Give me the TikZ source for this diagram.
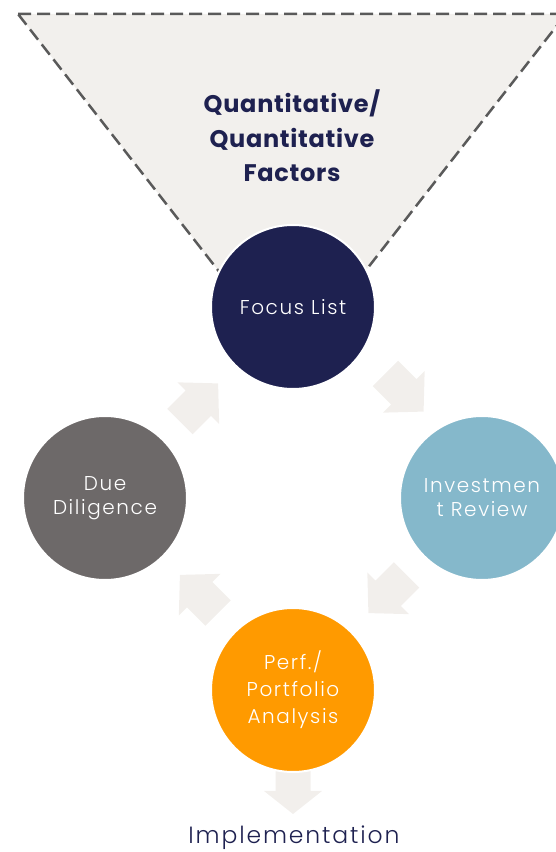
\documentclass[tikz,border=0pt]{standalone}
\usepackage{fontspec}
\setmainfont{Poppins}
\newfontfamily\lightfont{Poppins}[UprightFont=* Light, LetterSpace=8]
\newfontfamily\titlefont{Poppins}[UprightFont=* Bold, LetterSpace=3]
\usetikzlibrary{positioning,calc}

\definecolor{navy}{HTML}{1E2150}
\definecolor{steel}{HTML}{85B8CB}
\definecolor{slate}{HTML}{6D6969}
\definecolor{amber}{HTML}{FF9A00}
\definecolor{funnelfill}{HTML}{F2F0ED}
\definecolor{arrowfill}{HTML}{F2EFEC}
\definecolor{dashgray}{HTML}{5A5A5A}

\tikzset{
    stage/.style={circle, minimum size=164pt, inner sep=0pt, draw=white,
        line width=2pt, text=white, align=center,
        font=\lightfont\fontsize{20}{24}\selectfont},
    pics/flowarrow/.style={code={
        \fill[arrowfill] (-27,-18) -- (-1,-18) -- (-1,-29.5) -- (27,0)
            -- (-1,29.5) -- (-1,18) -- (-27,18) -- cycle;
    }}
}

\begin{document}
\begin{tikzpicture}[x=1pt,y=1pt]
        \useasboundingbox (0,0) rectangle (555,852);
        % funnel
        \draw[fill=funnelfill, draw=dashgray, line width=2.5pt, dash pattern=on 13pt off 6pt]
            (18,838) -- (566,838) -- (292,487) -- cycle;
        \node[font=\titlefont\fontsize{24}{34.5}\selectfont, text=navy, align=center] (factors)
            at (292,716) {Quantitative/\\Quantitative\\Factors};
        % cycle
        \coordinate (pfocus) at (293,545);
        \coordinate (pinvest) at (482,354);
        \coordinate (pperf) at (293,162);
        \coordinate (pdue) at (105,354);
        \pic[rotate=45] at ($(pdue)!0.5!(pfocus)$) {flowarrow};
        \pic[rotate=-45] at ($(pfocus)!0.5!(pinvest)+(17,10)$) {flowarrow};
        \pic[rotate=-135] at ($(pinvest)!0.5!(pperf)$) {flowarrow};
        \pic[rotate=135] at ($(pperf)!0.5!(pdue)$) {flowarrow};
        \fill[arrowfill] ($(pperf)+(-17.5,-70)$) -- ($(pperf)+(-17.5,-101)$) -- ($(pperf)+(-29,-101)$)
            -- ($(pperf)+(0,-124)$) -- ($(pperf)+(29,-101)$) -- ($(pperf)+(17.5,-101)$)
            -- ($(pperf)+(17.5,-70)$) -- cycle;
        \node[stage, fill=navy] (focus) at (pfocus) {Focus List};
        \node[stage, fill=steel] (invest) at (pinvest) {Investmen\\t Review};
        \node[stage, fill=amber, font=\lightfont\fontsize{20}{27}\selectfont] (perf) at (pperf) {Perf./\\Portfolio\\Analysis};
        \node[stage, fill=slate] (due) at (pdue) {Due\\Diligence};
        \node[font=\lightfont\fontsize{23.5}{30}\selectfont, text=navy] (impl) at (294,14) {Implementation};
    \end{tikzpicture}
\end{document}
